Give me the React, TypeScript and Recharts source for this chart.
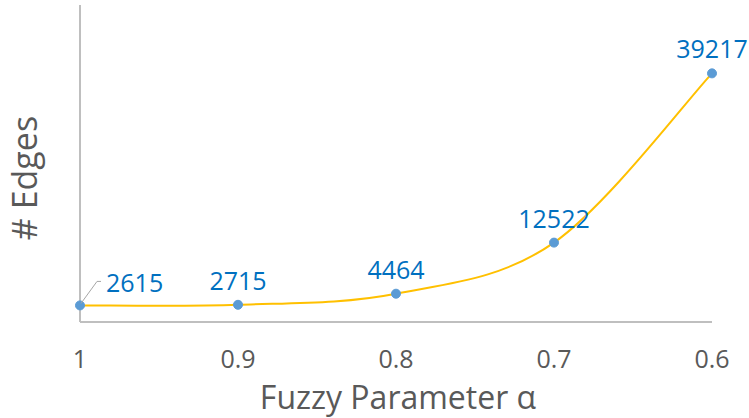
import { LineChart, Line, XAxis, YAxis, LabelList, Label } from 'recharts';

const alphas = ['1', '0.9', '0.8', '0.7', '0.6'];
const edges = [2615, 2715, 4464, 12522, 39217];

const data = alphas.map((a, i) => ({ alpha: a, edges: edges[i] }));

const FONT = '"Open Sans", sans-serif';

// Excel-like smoothed line (Catmull-Rom as Bezier)
const excelSmooth = (context: any) => {
  let pts: number[][] = [];
  return {
    areaStart() {},
    areaEnd() {},
    lineStart() {
      pts = [];
    },
    point(x: number, y: number) {
      pts.push([+x, +y]);
    },
    lineEnd() {
      if (!pts.length) return;
      context.moveTo(pts[0][0], pts[0][1]);
      for (let i = 0; i < pts.length - 1; i++) {
        const p0 = pts[Math.max(i - 1, 0)];
        const p1 = pts[i];
        const p2 = pts[i + 1];
        const p3 = pts[Math.min(i + 2, pts.length - 1)];
        context.bezierCurveTo(
          p1[0] + (p2[0] - p0[0]) / 6,
          p1[1] + (p2[1] - p0[1]) / 6,
          p2[0] - (p3[0] - p1[0]) / 6,
          p2[1] - (p3[1] - p1[1]) / 6,
          p2[0],
          p2[1]
        );
      }
    },
  };
};

const renderTick = (props: any) => {
  const { x, y, payload } = props;
  return (
    <text x={x} y={y + 46} textAnchor="middle" fill="#595959" fontSize={25} fontFamily={FONT}>
      {payload.value}
    </text>
  );
};

const renderDataLabel = (props: any) => {
  const { x, y, value, index } = props;
  if (index === 0) {
    return (
      <g>
        <polyline
          points={`${x + 1},${y - 2} ${x + 17},${y - 24} ${x + 21},${y - 24}`}
          fill="none"
          stroke="#A6A6A6"
          strokeWidth={1}
        />
        <text x={x + 26} y={y - 13} fill="#0070C0" fontSize={25} fontFamily={FONT}>
          {value}
        </text>
      </g>
    );
  }
  return (
    <text x={x} y={y - 15} textAnchor="middle" fill="#0070C0" fontSize={25} fontFamily={FONT}>
      {value}
    </text>
  );
};

export default function App() {
  return (
    <div style={{ position: 'absolute', left: 0, top: 0, background: '#fff' }}>
      <LineChart width={749} height={418} data={data} margin={{ top: 5, right: 37, left: 0, bottom: 0 }}>
        <XAxis
          dataKey="alpha"
          height={96}
          tickLine={false}
          tickSize={0}
          tickMargin={0}
          axisLine={{ stroke: '#BFBFBF', strokeWidth: 2 }}
          tick={renderTick}
          padding={{ left: 0, right: 0 }}
        >
          <Label
            content={(p: any) => {
              const vb = p.viewBox;
              return (
                <text x={398} y={vb.y + 87} textAnchor="middle" fill="#595959" fontSize={32} fontFamily={FONT}>
                  Fuzzy Parameter α
                </text>
              );
            }}
          />
        </XAxis>
        <YAxis
          width={80}
          domain={[0, 50000]}
          tick={false}
          tickLine={false}
          axisLine={{ stroke: '#BFBFBF', strokeWidth: 2 }}
        >
          <Label
            content={() => (
              <text
                x={37}
                y={178}
                textAnchor="middle"
                fill="#595959"
                fontSize={34}
                fontFamily={FONT}
                transform="rotate(-90, 37, 178)"
              >
                # Edges
              </text>
            )}
          />
        </YAxis>
        <Line
          dataKey="edges"
          type={excelSmooth as any}
          stroke="#FFC000"
          strokeWidth={2}
          dot={{ r: 4.5, fill: '#5B9BD5', stroke: '#5B9BD5', strokeWidth: 1 }}
          isAnimationActive={false}
        >
          <LabelList dataKey="edges" content={renderDataLabel} />
        </Line>
      </LineChart>
    </div>
  );
}
